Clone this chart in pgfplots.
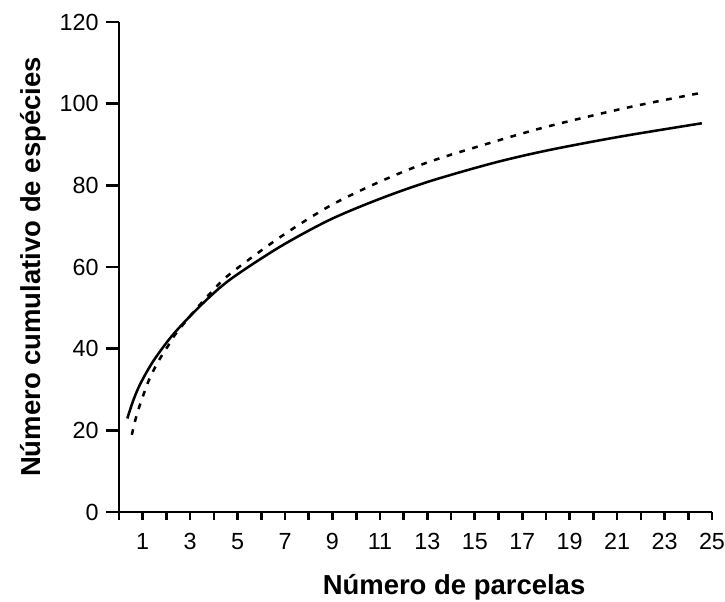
\documentclass[border=0pt]{standalone}
\usepackage{pgfplots}
\pgfplotsset{compat=1.18}
\usepackage{fontspec}
\setmainfont{Liberation Sans}

\begin{document}
\begin{tikzpicture}
\begin{axis}[
    scale only axis,
    width=444.75pt, height=367.5pt,
    xmin=0, xmax=25, ymin=0, ymax=120,
    axis lines=left,
    axis line style={line width=2pt, -},
    xtick={1,3,...,25},
    minor xtick={0,...,25},
    ytick={0,20,...,120},
    tick align=outside,
    major tick length=9.75pt,
    minor tick length=6pt,
    tick style={line width=2pt, black},
    every major x tick/.append style={draw=none},
    tick label style={font=\fontsize{17.5}{20}\selectfont},
    xticklabel style={yshift=-2.5pt},
    yticklabel style={xshift=-2pt},
    /pgf/number format/assume math mode=true,
    xlabel={Número de parcelas},
    ylabel={Número cumulativo de espécies},
    label style={font=\fontsize{20.6}{24}\selectfont\bfseries},
    xlabel style={at={(axis description cs:0.565,-0.169)}, anchor=base},
    ylabel style={at={(axis description cs:-0.132,0.5)}, anchor=base},
    clip=false,
]
% curva continua
\addplot[black, line width=1.9pt, smooth, tension=0.5] coordinates {
    (0.35,22.9) (0.6,27.3) (0.9,31.4) (1.45,37.0) (2.3,43.6)
    (3.5,50.9) (4.7,57.0) (6.8,65.0) (8.9,71.6) (11.0,76.7)
    (13.1,81.0) (15.8,85.5) (18.1,88.6) (21.1,91.9) (24.57,95.2)
};
% curva tracejada
\addplot[black, line width=1.9pt, smooth, tension=0.5, dash pattern=on 4.3pt off 5.7pt] coordinates {
    (0.54,18.9) (0.67,22.1) (0.81,25.0) (1.03,28.7) (1.24,32.0)
    (1.5,35.2) (1.75,37.8) (2.08,40.8) (2.36,43.4) (3.0,48.0)
    (3.84,53.5) (4.68,58.3) (6.79,67.3) (8.9,75.0) (11.0,80.9)
    (13.0,85.6) (15.36,89.9) (18.0,94.3) (21.4,99.0) (24.5,102.6)
};
\end{axis}
\pgfresetboundingbox
\path ([shift={(-89.25pt,-66.75pt)}]current axis.south west)
  rectangle ([shift={(9.75pt,16.5pt)}]current axis.north east);
\end{tikzpicture}
\end{document}
